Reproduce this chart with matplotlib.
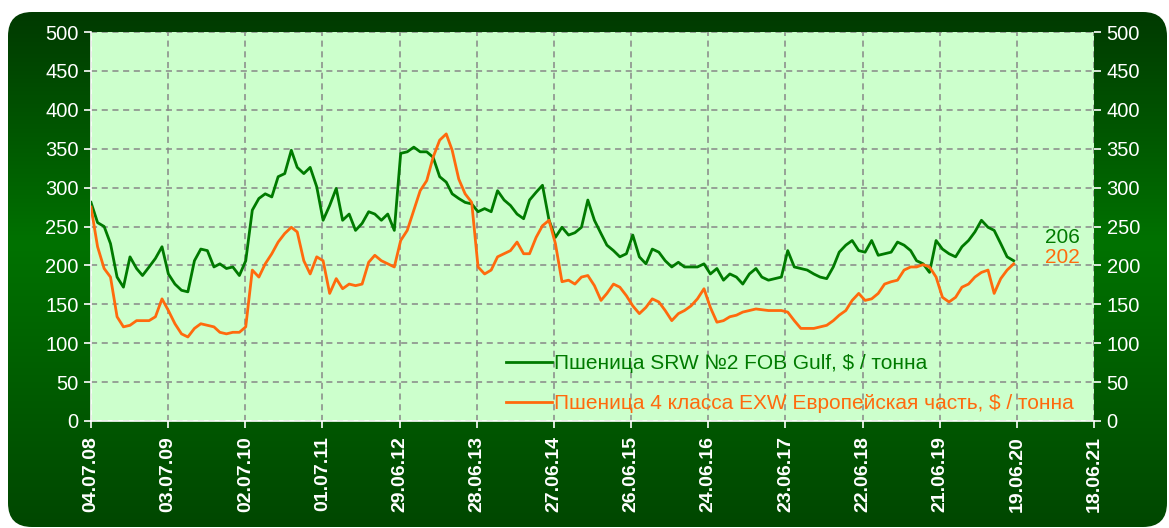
import numpy as np
import pandas as pd
import matplotlib
matplotlib.use('Agg')
import matplotlib.pyplot as plt
import matplotlib.dates as mdates
from matplotlib.colors import LinearSegmentedColormap
from matplotlib.patches import FancyBboxPatch
from matplotlib.transforms import blended_transform_factory

plt.rcParams['font.family'] = ['Liberation Sans', 'DejaVu Sans']

# monthly readings, Jul 2008 .. Jun 2020
dates = pd.date_range('2008-07-01', periods=144, freq='MS') + pd.Timedelta(days=3)

srw = [281, 255, 250, 228, 185, 172, 211, 196, 187, 198, 209, 224,
       189, 176, 168, 166, 206, 221, 219, 198, 202, 196, 198, 187,
       206, 271, 286, 292, 288, 314, 318, 348, 326, 318, 326, 301,
       258, 277, 299, 258, 266, 245, 254, 269, 266, 258, 266, 245,
       344, 346, 352, 346, 346, 339, 314, 307, 292, 286, 281, 279,
       269, 273, 269, 296, 284, 277, 266, 260, 284, 294, 303, 258,
       236, 249, 239, 242, 249, 284, 258, 241, 226, 219, 211, 215,
       239, 211, 202, 221, 217, 206, 198, 204, 198, 198, 198, 202,
       189, 196, 181, 189, 185, 176, 189, 196, 185, 181, 183, 185,
       219, 198, 196, 194, 189, 185, 183, 198, 217, 226, 232, 219,
       217, 232, 213, 215, 217, 230, 226, 219, 206, 202, 191, 232,
       221, 215, 211, 224, 232, 243, 258, 249, 245, 228, 211, 206]

cl4 = [275, 224, 196, 185, 134, 121, 123, 129, 129, 129, 134, 157,
       142, 125, 112, 108, 119, 125, 123, 121, 114, 112, 114, 114,
       121, 194, 185, 202, 215, 230, 241, 249, 243, 206, 189, 211,
       206, 164, 183, 170, 176, 174, 176, 204, 213, 206, 202, 198,
       232, 245, 271, 296, 309, 339, 361, 369, 348, 311, 292, 281,
       198, 189, 194, 211, 215, 219, 230, 215, 215, 236, 251, 258,
       228, 179, 181, 176, 185, 187, 174, 155, 164, 176, 172, 161,
       148, 138, 146, 157, 153, 142, 129, 138, 142, 148, 157, 170,
       146, 127, 129, 134, 136, 140, 142, 144, 143, 142, 142, 142,
       140, 129, 119, 119, 119, 121, 123, 129, 136, 142, 155, 164,
       155, 157, 164, 176, 179, 181, 194, 198, 198, 201, 198, 185,
       159, 153, 159, 172, 176, 185, 191, 194, 164, 183, 194, 202]

label_srw = 'Пшеница SRW №2 FOB Gulf, $ / тонна'
label_cl4 = 'Пшеница 4 класса EXW Европейская часть, $ / тонна'
xticks = pd.date_range('2008-07-04', periods=14, freq='364D')
yticks = list(range(0, 501, 50))

green = '#007a00'
orange = '#ff6a0d'

fig = plt.figure(figsize=(11.69, 5.28), dpi=100)

# rounded dark green gradient panel
bg = fig.add_axes([0, 0, 1, 1])
bg.set_xlim(0, 1169)
bg.set_ylim(528, 0)
bg.axis('off')
cmap = LinearSegmentedColormap.from_list('bg', [(0, '#003a00'), (0.45, '#007200'), (1, '#004700')])
grad = np.linspace(0, 1, 256).reshape(-1, 1)
im = bg.imshow(grad, extent=(8, 1167, 527, 12), aspect='auto', cmap=cmap)
box = FancyBboxPatch((8, 12), 1159, 515, boxstyle='round,pad=0,rounding_size=24',
                     facecolor='none', edgecolor='none', transform=bg.transData)
bg.add_patch(box)
im.set_clip_path(box)

ax = fig.add_axes([91 / 1169, 107 / 528, 1003 / 1169, 389 / 528])
ax.set_facecolor('#ccffcc')
ax.plot(dates, srw, color=green, lw=2.0, label=label_srw, zorder=3)
ax.plot(dates, cl4, color=orange, lw=2.0, label=label_cl4, zorder=3)

ax.set_xlim(xticks[0], xticks[-1])
ax.set_ylim(0, 500)
ax.set_xticks(xticks)
ax.xaxis.set_major_formatter(mdates.DateFormatter('%d.%m.%y'))
ax.set_yticks(yticks)
ax.grid(True, color='#888888', linestyle=(0, (4, 3)), linewidth=1.1)

for s in ['top', 'right']:
    ax.spines[s].set_visible(False)
for s in ['left', 'bottom']:
    ax.spines[s].set_color('white')
    ax.spines[s].set_linewidth(1.2)

ax.tick_params(axis='y', colors='white', labelsize=14.5, length=5, width=1.2, pad=4)
ax.tick_params(axis='x', colors='white', labelsize=14, length=5, width=1.2, pad=6)
for t in ax.get_xticklabels():
    t.set_rotation(90)
    t.set_fontweight('bold')

ax2 = ax.twinx()
ax2.set_ylim(0, 500)
ax2.set_yticks(yticks)
for s in ax2.spines.values():
    s.set_visible(False)
ax2.tick_params(axis='y', colors='white', labelsize=14.5, length=5, width=1.2, pad=4)

leg = ax.legend(loc='lower left', bbox_to_anchor=(0.395, -0.028), frameon=False,
                fontsize=15, labelcolor='linecolor', handlelength=2.2,
                handletextpad=0.1, labelspacing=1.0)

tr = blended_transform_factory(ax.transAxes, ax.transData)
ax.text(0.951, srw[-1] + 30, str(srw[-1]), color=green, fontsize=15, transform=tr, va='center')
ax.text(0.951, cl4[-1] + 8, str(cl4[-1]), color=orange, fontsize=15, transform=tr, va='center')

fig.savefig('out.png', dpi=100)
